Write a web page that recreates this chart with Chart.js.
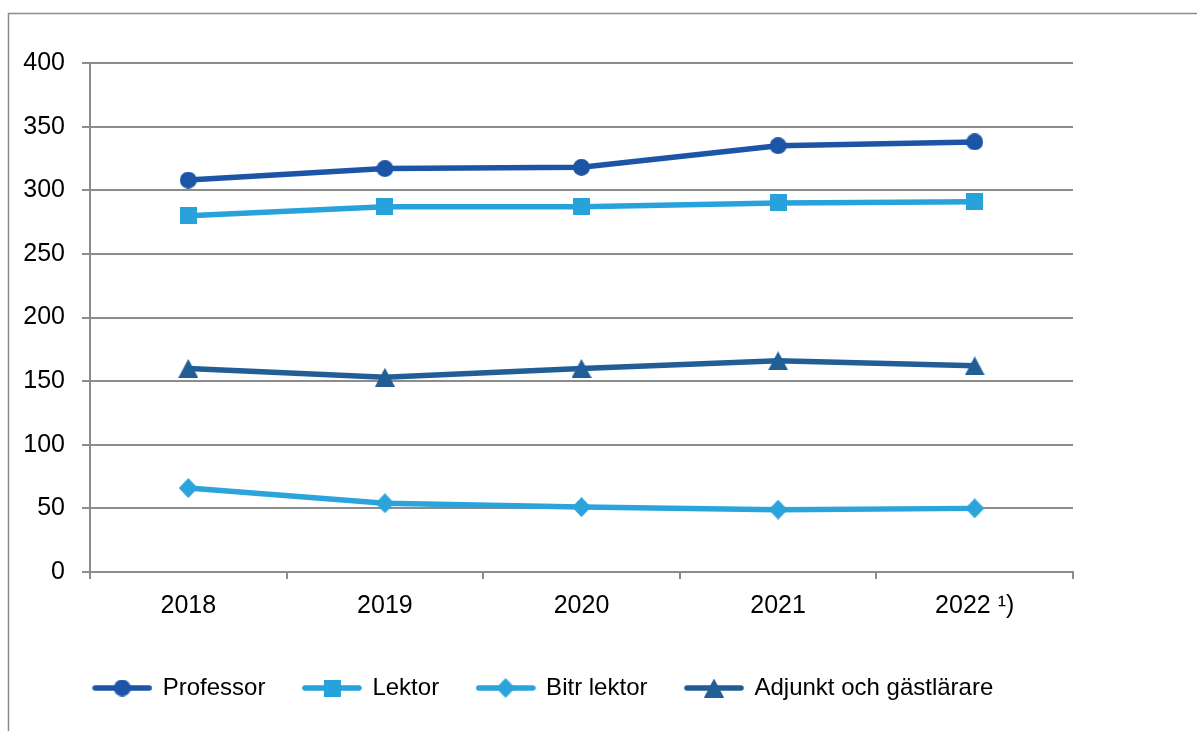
<!DOCTYPE html>
<html lang="sv">
<head>
    <meta charset="UTF-8">
    <title>Lärare per kategori</title>
    <style>
        body { margin: 0; padding: 0; background: #fff; overflow: hidden; }
        .wrap { position: relative; width: 1197px; height: 731px; }
    </style>
</head>
<body>
    <div class="wrap">
        <canvas id="chart"></canvas>
    </div>

    <script src="https://cdn.jsdelivr.net/npm/chart.js"></script>
    <script>
        // Data
        const years = ['2018', '2019', '2020', '2021', '2022 ¹)'];
        const professor = [308, 317, 318, 335, 338];
        const lektor = [280, 287, 287, 290, 291];
        const bitrLektor = [66, 54, 51, 49, 50];
        const adjunkt = [160, 153, 160, 166, 162];
        const seriesNames = ['Professor', 'Lektor', 'Bitr lektor', 'Adjunkt och gästlärare'];

        const gray = '#8c8c8c';
        const colors = ['#1d55a6', '#27a2db', '#2aa4db', '#215e96'];

        // Markörer ritas som små bilder
        function marker(shape, color, w, h) {
            const c = document.createElement('canvas');
            c.width = w; c.height = h;
            const g = c.getContext('2d');
            g.fillStyle = color;
            g.beginPath();
            if (shape === 'circle') {
                g.ellipse(w / 2, h / 2, w / 2, h / 2, 0, 0, Math.PI * 2);
            } else if (shape === 'square') {
                g.rect(0, 0, w, h);
            } else if (shape === 'diamond') {
                g.moveTo(w / 2, 0); g.lineTo(w, h / 2); g.lineTo(w / 2, h); g.lineTo(0, h / 2);
            } else {
                g.moveTo(w / 2, 0); g.lineTo(w, h); g.lineTo(0, h);
            }
            g.closePath();
            g.fill();
            return c;
        }

        const markers = [
            marker('circle', colors[0], 17, 17),
            marker('square', colors[1], 17, 17),
            marker('diamond', colors[2], 19, 20),
            marker('triangle', colors[3], 20, 19)
        ];

        function legendIcon(m, color) {
            const c = document.createElement('canvas');
            c.width = 60; c.height = 22;
            const g = c.getContext('2d');
            g.strokeStyle = color;
            g.lineWidth = 5.5;
            g.lineCap = 'round';
            g.beginPath();
            g.moveTo(3, 11); g.lineTo(57, 11);
            g.stroke();
            g.drawImage(m, 30 - m.width / 2, 11 - m.height / 2);
            return c;
        }
        const legendIcons = markers.map((m, i) => legendIcon(m, colors[i]));

        // Ram runt diagrammet
        const framePlugin = {
            id: 'frame',
            beforeDraw(chart) {
                const ctx = chart.ctx;
                ctx.save();
                ctx.strokeStyle = gray;
                ctx.lineWidth = 1.5;
                ctx.beginPath();
                ctx.moveTo(8.5, 740);
                ctx.lineTo(8.5, 13.5);
                ctx.lineTo(1210, 13.5);
                ctx.stroke();
                ctx.restore();
            }
        };

        Chart.defaults.font.family = "'Liberation Sans', Arial, sans-serif";
        Chart.defaults.font.size = 24;
        Chart.defaults.color = '#000';

        const allSeries = [professor, lektor, bitrLektor, adjunkt];

        new Chart(document.getElementById('chart'), {
            type: 'line',
            data: {
                labels: years,
                datasets: allSeries.map((d, i) => ({
                    label: seriesNames[i],
                    data: d,
                    borderColor: colors[i],
                    backgroundColor: colors[i],
                    borderWidth: 5.5,
                    pointStyle: markers[i],
                    pointRadius: 9,
                    tension: 0
                }))
            },
            options: {
                responsive: true,
                maintainAspectRatio: false,
                animation: false,
                layout: { padding: { top: 63, right: 124, bottom: 21, left: 14 } },
                plugins: {
                    tooltip: { enabled: false },
                    legend: {
                        position: 'bottom',
                        labels: {
                            usePointStyle: true,
                            pointStyleWidth: 57,
                            padding: 38,
                            font: { size: 24 },
                            generateLabels(chart) {
                                const items = Chart.defaults.plugins.legend.labels.generateLabels(chart);
                                items.forEach((it, i) => { it.pointStyle = legendIcons[i]; });
                                return items;
                            }
                        }
                    }
                },
                scales: {
                    x: {
                        offset: true,
                        grid: { offset: true, drawOnChartArea: false, tickLength: 7, color: gray, lineWidth: 2 },
                        border: { color: gray, width: 2 },
                        ticks: { padding: 12, maxRotation: 0, font: { size: 25 } },
                        afterFit(scale) { scale.height = 66; }
                    },
                    y: {
                        min: 0,
                        max: 400,
                        ticks: { stepSize: 50, padding: 17, font: { size: 25 } },
                        grid: { color: gray, lineWidth: 2, tickLength: 8 },
                        border: { color: gray, width: 2 },
                        afterFit(scale) { scale.width = 76; }
                    }
                }
            },
            plugins: [framePlugin]
        });
    </script>
</body>
</html>
